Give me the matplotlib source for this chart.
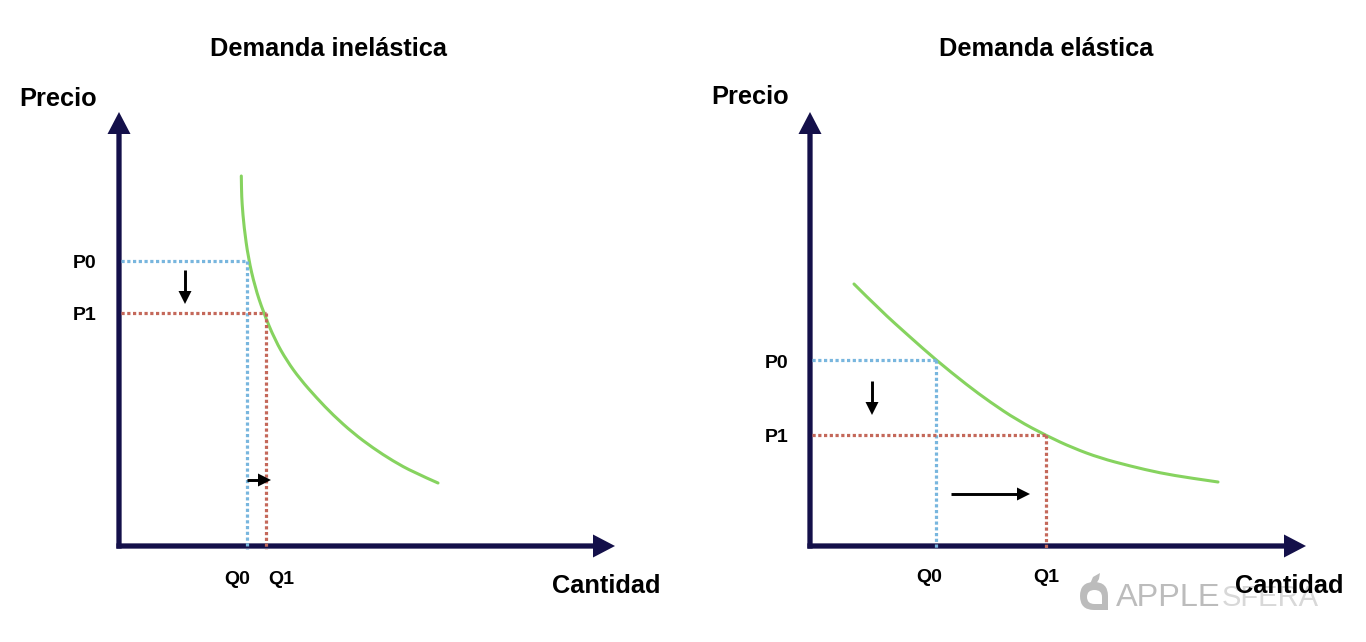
import matplotlib
matplotlib.use("Agg")
import matplotlib.pyplot as plt
from matplotlib import font_manager as fm
from matplotlib.patches import Polygon, PathPatch
from matplotlib.path import Path

titles = ["Demanda inelástica", "Demanda elástica"]
ink = "#14104a"
green = "#86d35f"
blue = "#78b6de"
red = "#c4685a"

left_curve_x = [241.3, 241.5, 242, 244, 248.3, 255, 263.3, 275, 287, 300, 316.7, 333, 353, 373, 393, 413, 438]
left_curve_y = [176, 190, 203, 227, 258, 287, 312, 340, 361, 379, 398, 415, 433, 448, 461, 472, 483]
right_curve_x = [854, 880, 910, 936, 967, 990, 1017, 1047, 1073, 1100, 1130, 1160, 1190, 1218]
right_curve_y = [284, 310, 337, 360, 385, 402, 420, 436, 448, 458, 466, 473, 478, 482]

L_P = [261, 313]
L_Q = [247, 266]
L_origin = (119, 546)
R_P = [360, 435]
R_Q = [936, 1046]
R_origin = (810, 546)
axis_top = 112
axis_len_x = 496

fig = plt.figure(figsize=(13.66, 6.42), dpi=100)
ax = fig.add_axes([0, 0, 1, 1])
ax.set_xlim(0, 1366)
ax.set_ylim(642, 0)
ax.axis("off")
plt.rcParams["font.family"] = ["Liberation Sans", "DejaVu Sans"]

names = {f.name for f in fm.fontManager.ttflist}
narrow = "Liberation Sans Narrow" if "Liberation Sans Narrow" in names else "Liberation Sans"
sfera_size = 25 if narrow != "Liberation Sans" else 21


def label(x, y, s, size):
    ax.text(x, y, s, fontsize=size, fontweight="bold", ha="center", va="center",
            color="black", family="Liberation Sans", zorder=6)


def smooth(xs, ys, **kw):
    pts = list(zip(xs, ys))
    verts = [pts[0]]
    codes = [Path.MOVETO]
    for i in range(1, len(pts) - 1):
        mx = (pts[i][0] + pts[i + 1][0]) / 2
        my = (pts[i][1] + pts[i + 1][1]) / 2
        end = (mx, my) if i < len(pts) - 2 else pts[-1]
        verts += [pts[i], end]
        codes += [Path.CURVE3, Path.CURVE3]
    ax.add_patch(PathPatch(Path(verts, codes), fill=False, **kw))


def panel(origin, curve_x, curve_y, P, Q):
    ox, oy = origin
    ex = ox + axis_len_x - 22
    ax.plot([ox, ox], [oy + 2.6, axis_top + 20], color=ink, lw=3.8, solid_capstyle="butt", zorder=3, snap=False)
    ax.plot([ox - 2.6, ex], [oy, oy], color=ink, lw=3.8, solid_capstyle="butt", zorder=3, snap=False)
    ax.add_patch(Polygon([[ox - 11.5, axis_top + 22], [ox, axis_top], [ox + 11.5, axis_top + 22]],
                         closed=True, color=ink, lw=0, zorder=3))
    ax.add_patch(Polygon([[ex, oy - 11.5], [ex + 22, oy], [ex, oy + 11.5]],
                         closed=True, color=ink, lw=0, zorder=3))
    smooth(curve_x, curve_y, edgecolor=green, lw=2.2, zorder=2, capstyle="round")
    for p, q, c in zip(P, Q, [blue, red]):
        ax.plot([ox + 2, q], [p, p], color=c, lw=2.3, ls=(0, (1, 0.8)), zorder=4)
        ax.plot([q, q], [p, oy + 2.5], color=c, lw=2.3, ls=(0, (1, 0.8)), zorder=4)


def arrow(x0, y0, x1, y1, head=13, half=6.5):
    dx = (x1 > x0) - (x1 < x0)
    dy = (y1 > y0) - (y1 < y0)
    bx, by = x1 - dx * head, y1 - dy * head
    ax.plot([x0, bx], [y0, by], color="black", lw=2.1, solid_capstyle="butt", zorder=5)
    ax.add_patch(Polygon([[bx - dy * half, by - dx * half], [x1, y1], [bx + dy * half, by + dx * half]],
                         closed=True, color="black", lw=0, zorder=5))


panel(L_origin, left_curve_x, left_curve_y, L_P, L_Q)
panel(R_origin, right_curve_x, right_curve_y, R_P, R_Q)

arrow(185, 270, 185, 304)
arrow(247, 480, 271, 480)
arrow(872, 381, 872, 415)
arrow(951, 494, 1030, 494)

label(328, 49, titles[0], 18.3)
label(1046, 49, titles[1], 18.3)
label(58, 99, "Precio", 18.3)
label(750, 97, "Precio", 18.3)
label(606, 586, "Cantidad", 18.3)
label(1289, 586, "Cantidad", 18.3)
label(85, 264, "P0", 14)
label(85, 315, "P1", 14)
label(777, 363, "P0", 14)
label(777, 438, "P1", 14)
label(237, 579, "Q0", 14)
label(281, 579, "Q1", 14)
label(929, 578, "Q0", 14)
label(1046, 578, "Q1", 14)

# watermark
grey = "#bcbcbc"
ax.text(1116, 598, "APPLE", fontsize=23.4, color=grey, ha="left", va="center", family="Liberation Sans", zorder=1)
ax.text(1222, 598, "SFERA", fontsize=sfera_size, color="#d8d8d8", ha="left", va="center", family=narrow, zorder=1)


def drop(x0, y0, x1, y1):
    mx, my = (x0 + x1) / 2, (y0 + y1) / 2
    return [(x1, y1), (mx, y1), (x0, y1), (x0, my), (x0, y0), (mx, y0), (x1, y0), (x1, my), (x1, y1)]


outer = drop(1080, 582, 1108, 610)
inner = drop(1087, 590, 1102, 604)[::-1]
c = [Path.MOVETO, Path.LINETO, Path.CURVE3, Path.CURVE3, Path.CURVE3, Path.CURVE3, Path.CURVE3, Path.CURVE3, Path.LINETO]
ax.add_patch(PathPatch(Path(outer + inner, c + c), facecolor=grey, edgecolor="none", zorder=1))
ax.add_patch(Polygon([[1090, 584], [1093, 577], [1100, 573], [1099, 579], [1096, 584]],
                     closed=True, color=grey, lw=0, zorder=1))

fig.savefig("out.png", dpi=100)
